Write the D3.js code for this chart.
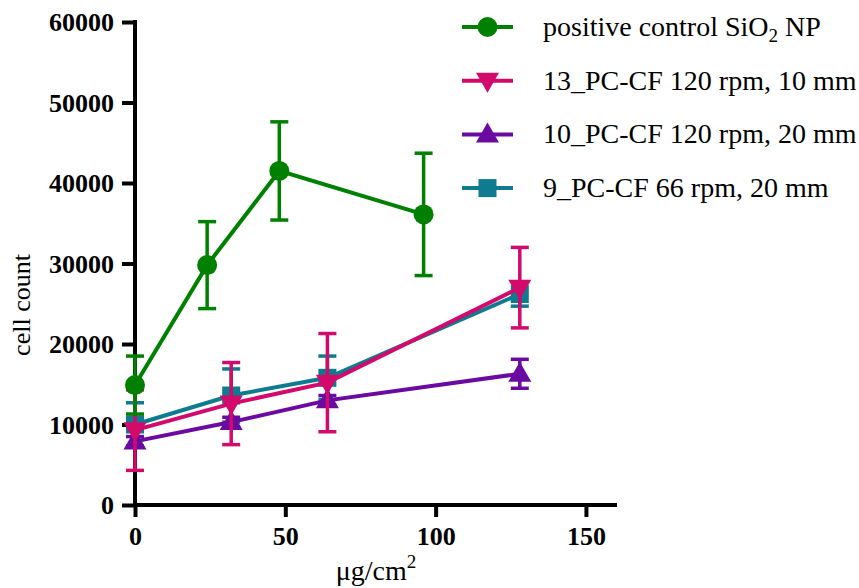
<!DOCTYPE html>
<html>
<head>
<meta charset="utf-8">
<script src="https://cdn.jsdelivr.net/npm/d3@7"></script>
<style>
  body { margin: 0; background: #fff; }
  svg text { font-family: "Liberation Serif", "Times New Roman", serif; }
</style>
</head>
<body>
<svg width="859" height="588"></svg>
<script>
// doses for each series (µg/cm²)
const doseControl = [0, 24, 48, 96];
const doseCF = [0, 32, 64, 128];

// mean cell counts and error (+/-)
const control = [14900, 29800, 41500, 36100];
const controlErr = [3600, 5400, 6100, 7600];

const pc13 = [9300, 12600, 15200, 27000];
const pc13Err = [5000, 5100, 6100, 5000];

const pc10 = [7900, 10300, 13000, 16300];
const pc10Err = [600, 600, 600, 1800];

const pc9 = [10000, 13600, 15800, 26200];
const pc9Err = [2700, 3300, 2700, 1500];

const yTicks = [0, 10000, 20000, 30000, 40000, 50000, 60000];
const xTicks = [0, 50, 100, 150];

const series = [
  {name: '9_PC-CF 66 rpm, 20 mm', x: doseCF, y: pc9, err: pc9Err, color: '#0f7b8f', shape: 'square'},
  {name: '10_PC-CF 120 rpm, 20 mm', x: doseCF, y: pc10, err: pc10Err, color: '#6b0aa0', shape: 'up'},
  {name: '13_PC-CF 120 rpm, 10 mm', x: doseCF, y: pc13, err: pc13Err, color: '#d10a6c', shape: 'down'},
  {name: 'positive control SiO2 NP', x: doseControl, y: control, err: controlErr, color: '#008000', shape: 'circle'}
];

let svg = d3.select('svg');

let xScale = d3.scaleLinear().domain([0, 160]).range([135, 616]);
let yScale = d3.scaleLinear().domain([0, 60000]).range([505, 22]);

function marker(g, shape, color) {
  if (shape === 'circle') {
    g.append('circle').attr('r', 10).attr('fill', color);
  } else if (shape === 'square') {
    g.append('rect').attr('x', -9).attr('y', -9).attr('width', 18).attr('height', 18).attr('fill', color);
  } else if (shape === 'down') {
    g.append('path').attr('d', 'M-11.5,-8L11.5,-8L0,12Z').attr('fill', color);
  } else {
    g.append('path').attr('d', 'M-11.5,8L11.5,8L0,-12Z').attr('fill', color);
  }
}

// axes
let yAxis = d3.axisLeft(yScale).tickValues(yTicks).tickSize(13).tickSizeOuter(0).tickPadding(8).tickFormat(d3.format('d'));
let xAxis = d3.axisBottom(xScale).tickValues(xTicks).tickSize(12).tickSizeOuter(0).tickPadding(10);

let gy = svg.append('g').attr('transform', 'translate(135,0)').call(yAxis);
let gx = svg.append('g').attr('transform', 'translate(0,505)').call(xAxis);

[gx, gy].forEach(g => {
  g.select('.domain').attr('stroke', '#000').attr('stroke-width', 4);
  g.selectAll('.tick line').attr('stroke', '#000').attr('stroke-width', 4);
  g.selectAll('.tick text')
    .attr('fill', '#000')
    .style('font-family', '"Liberation Serif", serif')
    .style('font-weight', 'bold')
    .style('font-size', '26px');
});
gy.selectAll('.tick text').attr('dy', '0.34em');
gx.select('.domain').attr('d', 'M133,0H617');
gy.select('.domain').attr('d', 'M0,505V20');

// axis titles
svg.append('text')
  .attr('transform', 'translate(30,305) rotate(-90)')
  .style('text-anchor', 'middle')
  .style('font-size', '26px')
  .text('cell count');

let xt = svg.append('text')
  .attr('x', 376)
  .attr('y', 580)
  .style('text-anchor', 'middle')
  .style('font-size', '28px');
xt.append('tspan').text('μg/cm');
xt.append('tspan').attr('dy', -12).style('font-size', '19px').text('2');

// series
series.forEach(s => {
  let pts = s.x.map((x, i) => ({x: x, y: s.y[i], e: s.err[i]}));
  let g = svg.append('g');

  // error bars
  pts.forEach(p => {
    let cx = xScale(p.x);
    g.append('line')
      .attr('x1', cx).attr('x2', cx)
      .attr('y1', yScale(p.y + p.e)).attr('y2', yScale(p.y - p.e))
      .attr('stroke', s.color).attr('stroke-width', 3.5);
    [p.y + p.e, p.y - p.e].forEach(v => {
      g.append('line')
        .attr('x1', cx - 9).attr('x2', cx + 9)
        .attr('y1', yScale(v)).attr('y2', yScale(v))
        .attr('stroke', s.color).attr('stroke-width', 3.5);
    });
  });

  g.append('path')
    .datum(pts)
    .attr('fill', 'none')
    .attr('stroke', s.color)
    .attr('stroke-width', 4)
    .attr('d', d3.line().x(d => xScale(d.x)).y(d => yScale(d.y)));

  pts.forEach(p => {
    let m = g.append('g').attr('transform', `translate(${xScale(p.x)},${yScale(p.y)})`);
    marker(m, s.shape, s.color);
  });
});

// legend
let legendRows = series.slice().reverse();
let legend = svg.selectAll('.legend')
  .data(legendRows)
  .enter()
  .append('g')
  .attr('class', 'legend')
  .attr('transform', (d, i) => `translate(462,${27 + i * 53.7})`);

legend.append('line')
  .attr('x1', 0).attr('x2', 51)
  .attr('stroke', d => d.color)
  .attr('stroke-width', 4);

legend.each(function(d) {
  let m = d3.select(this).append('g').attr('transform', 'translate(25.5,0)');
  marker(m, d.shape, d.color);
});

legend.append('text')
  .attr('x', 81)
  .attr('y', 9)
  .style('font-size', '28px')
  .each(function(d) {
    let t = d3.select(this);
    if (d.name.indexOf('SiO2') >= 0) {
      t.append('tspan').text('positive control SiO');
      t.append('tspan').attr('dy', 6).style('font-size', '19px').text('2');
      t.append('tspan').attr('dy', -6).text(' NP');
    } else {
      t.text(d.name);
    }
  });
</script>
</body>
</html>
